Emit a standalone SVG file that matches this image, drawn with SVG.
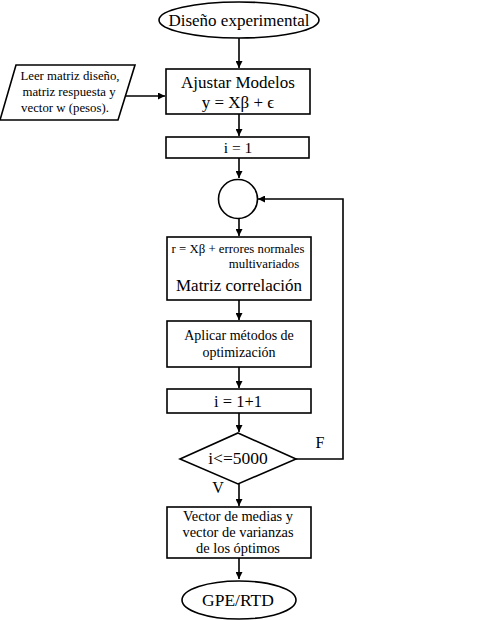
<svg xmlns="http://www.w3.org/2000/svg" width="480" height="620" viewBox="0 0 480 620">
<defs>
<marker id="ah" viewBox="0 0 10 10" refX="10" refY="5" markerWidth="7" markerHeight="7" markerUnits="userSpaceOnUse" orient="auto">
<path d="M0,0 L10,5 L0,10 z" fill="#000"/>
</marker>
<style>
.s{fill:#fff;stroke:#000;stroke-width:1.6}
.c{fill:none;stroke:#000;stroke-width:1.6;marker-end:url(#ah)}
text{font-family:'Liberation Serif','Times New Roman',serif;fill:#000;text-anchor:middle}
</style>
</defs>
<rect width="480" height="620" fill="#fff"/>
<g font-family="Liberation Serif, serif">
<g id="connectors">
<path class="c" d="M239,38 L239,68"/>
<path class="c" d="M126,96 L165,96"/>
<path class="c" d="M239,114 L239,136"/>
<path class="c" d="M239,158 L239,178"/>
<path class="c" d="M239,218 L239,236"/>
<path class="c" d="M239,300 L239,320"/>
<path class="c" d="M239,367 L239,388"/>
<path class="c" d="M239,413 L239,432"/>
<path class="c" d="M239,484 L239,506"/>
<path class="c" d="M239,558 L239,579"/>
<path class="c" d="M296,459 L343,459 L343,199 L258,199"/>
<text x="320" y="448" font-size="16">F</text>
<text x="218" y="493" font-size="16">V</text>
</g>
<g id="start">
<ellipse class="s" cx="239" cy="20" rx="80" ry="18"/>
<text x="239" y="26" font-size="17">Diseño experimental</text>
</g>
<g id="input">
<polygon class="s" points="16,65 135,65 118,120 0,120"/>
<text x="70" y="80" font-size="12.8">Leer matriz diseño,</text>
<text x="69" y="96" font-size="12.8">matriz respuesta y</text>
<text x="65" y="112" font-size="12.8">vector w (pesos).</text>
</g>
<g id="ajustar">
<rect class="s" x="166" y="69" width="144" height="45"/>
<text x="238" y="88" font-size="17">Ajustar Modelos</text>
<text x="238" y="108" font-size="17">y = Xβ + ϵ</text>
</g>
<g id="init">
<rect class="s" x="166" y="137" width="143" height="21"/>
<text x="238" y="153" font-size="15.5">i = 1</text>
</g>
<g id="join">
<circle class="s" cx="238" cy="199" r="19.5"/>
</g>
<g id="simular">
<rect class="s" x="167" y="237" width="144" height="63"/>
<text x="238" y="253" font-size="12.8">r = Xβ + errores normales</text>
<text x="264" y="268" font-size="12.8">multivariados</text>
<text x="239" y="291" font-size="17">Matriz correlación</text>
</g>
<g id="optim">
<rect class="s" x="167" y="321" width="144" height="46"/>
<text x="239" y="340" font-size="14">Aplicar métodos de</text>
<text x="239" y="357" font-size="14">optimización</text>
</g>
<g id="incr">
<rect class="s" x="167" y="389" width="144" height="24"/>
<text x="238" y="407" font-size="16.5">i = 1+1</text>
</g>
<g id="cond">
<polygon class="s" points="238,433 296,459 238,484 180,459"/>
<text x="238" y="464" font-size="17.5">i&lt;=5000</text>
</g>
<g id="result">
<rect class="s" x="167" y="507" width="144" height="51"/>
<text x="238" y="521" font-size="14.4">Vector de medias y</text>
<text x="238" y="537" font-size="14.4">vector de varianzas</text>
<text x="238" y="553" font-size="14.4">de los óptimos</text>
</g>
<g id="end">
<ellipse class="s" cx="239" cy="600" rx="57" ry="19"/>
<text x="238" y="606" font-size="17.5">GPE/RTD</text>
</g>
</g>
</svg>
